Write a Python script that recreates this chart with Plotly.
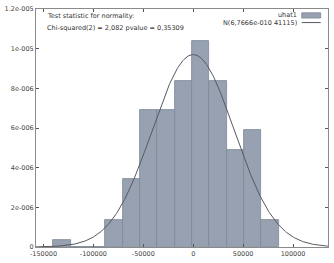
import numpy as np
import plotly.graph_objects as go

# Histogram of uhat1 (density scale)
bin_start = -140000
bin_width = 17350
densities = [0.35e-6, 0.0, 0.0, 1.37e-6, 3.45e-6, 6.93e-6, 6.93e-6, 8.35e-6,
             10.4e-6, 8.35e-6, 4.87e-6, 5.9e-6, 1.37e-6]

# Fitted normal
norm_mean = 6.7666e-10
norm_sd = 41115.0

x_tickvals = [-150000, -100000, -50000, 0, 50000, 100000]
x_ticktext = ["-150000", "-100000", "-50000", "0", "50000", "100000"]
y_tickvals = [0, 2e-6, 4e-6, 6e-6, 8e-6, 1e-5, 1.2e-5]
y_ticktext = ["0", "2e-006", "4e-006", "6e-006", "8e-006", "1e-005", "1.2e-005"]

legend_labels = ["uhat1", "N(6,7666e-010 41115)"]
note_lines = ["Test statistic for normality:", "Chi-squared(2) = 2,082 pvalue = 0,35309"]

x_range = [-157500, 135000]
y_range = [0, 1.2e-5]

bar_color = "#97a1b1"
bar_line = "#7d8898"
curve_color = "#555a60"
font_family = "DejaVu Sans, Liberation Sans, sans-serif"

centers = [bin_start + bin_width * (i + 0.5) for i in range(len(densities))]

xs = np.linspace(x_range[0], x_range[1], 400)
pdf = np.exp(-0.5 * ((xs - norm_mean) / norm_sd) ** 2) / (norm_sd * np.sqrt(2 * np.pi))

fig = go.Figure()
fig.add_trace(go.Bar(x=centers, y=densities, width=[bin_width] * len(densities),
                     marker=dict(color=bar_color, line=dict(color=bar_line, width=0.8)),
                     showlegend=False))
fig.add_trace(go.Scatter(x=xs, y=pdf, mode="lines",
                         line=dict(color=curve_color, width=1), showlegend=False))

axis_common = dict(showgrid=False, zeroline=False, showline=True, linecolor="#8a8a8a",
                   linewidth=1, mirror="ticks", ticks="inside", ticklen=3,
                   tickcolor="#555", tickfont=dict(family=font_family, size=6.5, color="#444"))
fig.update_xaxes(range=x_range, tickvals=x_tickvals, ticktext=x_ticktext, **axis_common)
fig.update_yaxes(range=y_range, tickvals=y_tickvals, ticktext=y_ticktext, **axis_common)

# Notes top-left
note_y = [0.972, 0.922]
for i, t in enumerate(note_lines):
    fig.add_annotation(xref="paper", yref="paper", x=0.03, y=note_y[i],
                       xanchor="left", yanchor="middle", text=t, showarrow=False,
                       font=dict(family=font_family, size=6.5, color="#333"))

# Custom legend (swatch to the right of text)
leg_y = [0.973, 0.943]
for i, t in enumerate(legend_labels):
    fig.add_annotation(xref="paper", yref="paper", x=0.902, y=leg_y[i],
                       xanchor="right", yanchor="middle", text=t, showarrow=False,
                       font=dict(family=font_family, size=6.5, color="#333"))
fig.add_shape(type="rect", xref="paper", yref="paper", x0=0.91, x1=0.975,
              y0=leg_y[0] - 0.011, y1=leg_y[0] + 0.011,
              fillcolor=bar_color, line=dict(color=bar_line, width=0.8))
fig.add_shape(type="line", xref="paper", yref="paper", x0=0.91, x1=0.975,
              y0=leg_y[1], y1=leg_y[1], line=dict(color=curve_color, width=1))

fig.update_layout(width=334, height=263, margin=dict(l=31, r=5, t=6, b=15),
                  plot_bgcolor="white", paper_bgcolor="white", bargap=0,
                  font=dict(family=font_family))

fig.write_html("out.html")
